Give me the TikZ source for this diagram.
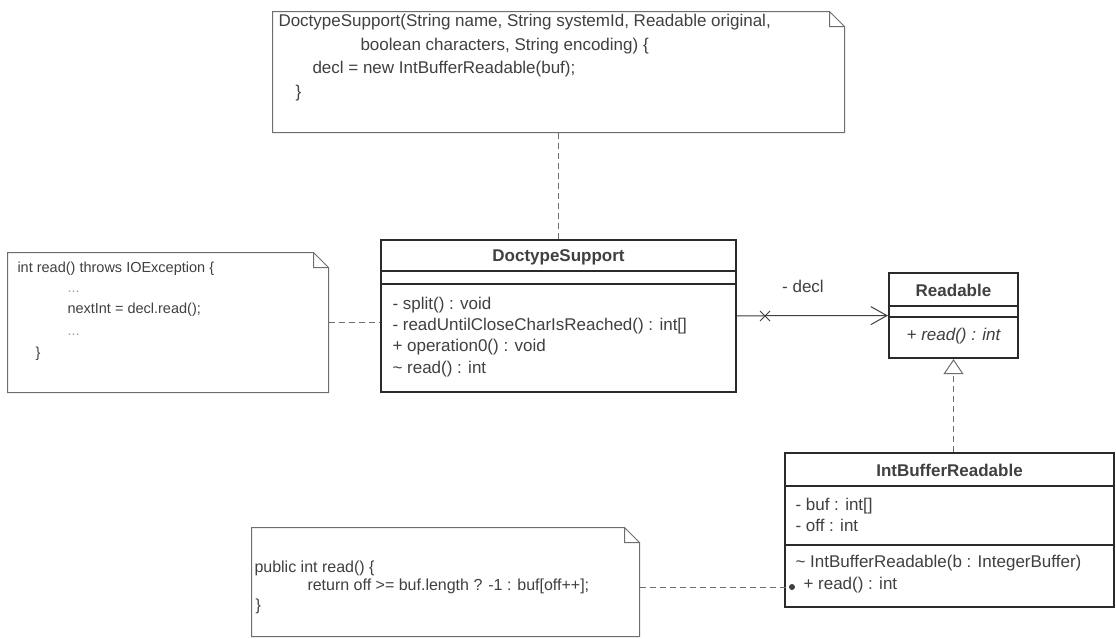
\documentclass[tikz,border=0pt]{standalone}
\usepackage{fontspec}
\setmainfont{Liberation Sans}
\usetikzlibrary{arrows.meta,shapes.misc}
\definecolor{ink}{HTML}{404040}
\definecolor{frame}{HTML}{2A2A2A}
\definecolor{notegray}{HTML}{6E6E6E}
\tikzset{> = {Straight Barb[length=16pt,width=18pt]}, every picture/.style={line width=1pt},
  umlclass/.style={draw=frame, line width=2.2pt, fill=white, inner sep=0pt},
  notebox/.style={inner sep=0pt},
  txt/.style={anchor=west, inner sep=0pt, text=ink, text height=0.75em, text depth=0.2em},
  head/.style={anchor=center, font=\fontsize{17}{20}\selectfont\bfseries},
  compart/.style={draw=frame, line width=1.2pt},
  notelink/.style={draw=notegray, dash pattern=on 6pt off 4pt}}

\begin{document}
\begin{tikzpicture}[x=1pt, y=-1pt]
\fill[white] (0,0) rectangle (1116,638);
\useasboundingbox (0,0) rectangle (1116,638);

\begin{scope}[every node/.style={umlclass}]
\node[minimum width=355pt, minimum height=152pt] (DS) at (558.5,316) {};
\node[minimum width=129pt, minimum height=85pt] (RD) at (953.5,315.5) {};
\node[minimum width=329pt, minimum height=154pt] (IBR) at (949.5,530) {};
\end{scope}

\begin{scope}[every node/.style={notebox}]
\node[minimum width=571pt, minimum height=120pt] (topnote) at (558.5,72) {};
\node[minimum width=320pt, minimum height=139pt] (leftnote) at (168,322.5) {};
\node[minimum width=387pt, minimum height=108pt] (botnote) at (445.5,582) {};
\end{scope}

% note outlines with folded corner
\foreach \n in {topnote,leftnote,botnote}
  \draw[notegray] (\n.south west) -- (\n.north west) -- ([xshift=-15pt]\n.north east)
    -- ([yshift=-15pt]\n.north east) -- (\n.south east) -- cycle
    ([xshift=-15pt]\n.north east) |- ([yshift=-15pt]\n.north east);

% compartments
\draw[compart] ([yshift=-32pt]DS.north west) -- ([yshift=-32pt]DS.north east);
\draw[compart] ([yshift=-45pt]DS.north west) -- ([yshift=-45pt]DS.north east);
\draw[compart] ([yshift=-34pt]RD.north west) -- ([yshift=-34pt]RD.north east);
\draw[compart] ([yshift=-45pt]RD.north west) -- ([yshift=-45pt]RD.north east);
\draw[compart] ([yshift=-34pt]IBR.north west) -- ([yshift=-34pt]IBR.north east);
\draw[compart] ([yshift=-93pt]IBR.north west) -- ([yshift=-93pt]IBR.north east);

\begin{scope}[every node/.style={txt}, font=\fontsize{17}{20}\selectfont]
\node (tn1) at (278,24) {DoctypeSupport(String name, String systemId, Readable original,};
\node (tn2) at (360,47.5) {boolean characters, String encoding) \{};
\node (tn3) at (312,71) {decl = new IntBufferReadable(buf);};
\node (tn4) at (295,94.5) {\}};
\end{scope}

\begin{scope}[every node/.style={txt}, font=\fontsize{14.5}{17}\selectfont]
\node (ln1) at (17,270) {int read() throws IOException \{};
\node[text=ink!50] (ln2) at (67,290) {...};
\node (ln3) at (67,310.5) {nextInt = decl.read();};
\node[text=ink!50] (ln4) at (67,333) {...};
\node (ln5) at (35,355) {\}};
\end{scope}

\begin{scope}[every node/.style={txt}, font=\fontsize{16}{19}\selectfont]
\node (bn1) at (254,570) {public int read() \{};
\node (bn2) at (307,588) {return off >= buf.length ? -1 : buf[off++];};
\node (bn3) at (255,608) {\}};
\end{scope}

\begin{scope}[every node/.style={txt}, font=\fontsize{17}{20}\selectfont]
\node[head] (DShead) at (558.5,259) {DoctypeSupport};
\node (ds1) at (392,307) {- split() : void};
\node (ds2) at (392,328) {- readUntilCloseCharIsReached() : int[]};
\node (ds3) at (392,349) {+ operation0() : void};
\node (ds4) at (392,371) {\textasciitilde{} read() : int};
\node[head] (RDhead) at (953.5,294) {Readable};
\node[anchor=center, font=\fontsize{17}{20}\selectfont\itshape] (rd1) at (953.5,338) {+ read() : int};
\node[head] (IBRhead) at (949.5,474) {IntBufferReadable};
\node (ib1) at (795,508) {- buf : int[]};
\node (ib2) at (795,529) {- off : int};
\node (ib3) at (795,565) {\textasciitilde{} IntBufferReadable(b : IntegerBuffer)};
\node (ib4) at (803,587) {+ read() : int};
\node[anchor=center] (decl) at (803,290) {- decl};
\end{scope}

% connectors
\draw[notelink] (topnote) -- (DS);
\draw[notelink] (leftnote.east) -- (leftnote.east -| DS.west);
\path[->, draw=ink] (DS) edge (RD);
\node[draw=ink, cross out, minimum size=9pt, inner sep=0pt] (nonav) at (765,316) {};
\draw[notelink, -{Triangle[open, length=15pt, width=20pt]}] (RD.south |- IBR.north) -- (RD.south);
\coordinate (rdanchor) at (792,587);
\draw[notelink] (botnote.east |- rdanchor) -- (rdanchor);
\fill[ink] (rdanchor) circle (3pt);
\end{tikzpicture}
\end{document}
